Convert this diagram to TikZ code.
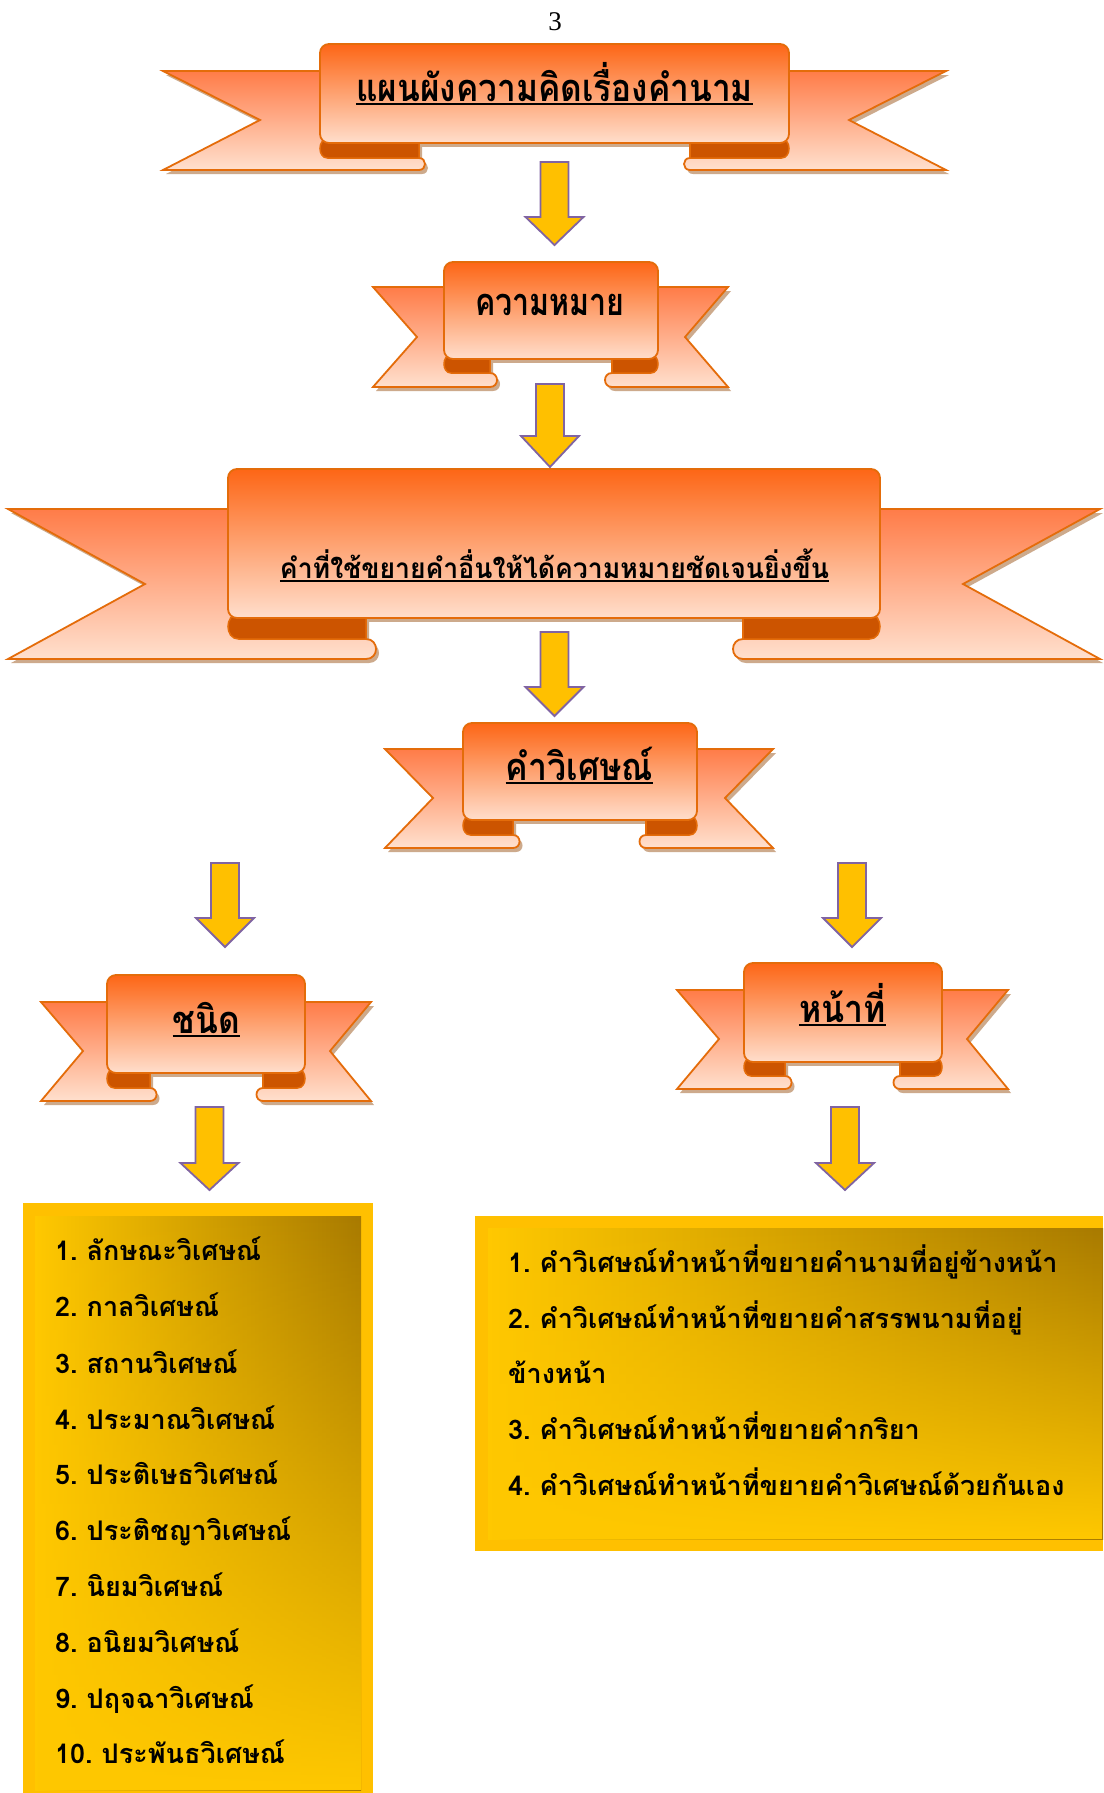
\documentclass[tikz,border=0pt]{standalone}
\usepackage{graphicx}
\usepackage{fontspec}
\newfontfamily\thai[Script=Thai]{Loma}
\newfontfamily\pnumfont{Liberation Serif}
\usetikzlibrary{fadings}
\definecolor{ribline}{RGB}{228,108,10}
\definecolor{ribtop}{RGB}{253,102,22}
\definecolor{ribmid}{RGB}{255,150,112}
\definecolor{ribbot}{RGB}{255,222,204}
\definecolor{eartop}{RGB}{255,124,72}
\definecolor{earbot}{RGB}{255,224,206}
\definecolor{ribdark}{RGB}{204,84,0}
\definecolor{ribshadow}{RGB}{205,170,140}
\definecolor{arryellow}{RGB}{255,192,0}
\definecolor{arrpurple}{RGB}{128,100,162}
\definecolor{boxframe}{RGB}{255,192,0}
\definecolor{boxlight}{RGB}{255,200,0}
\definecolor{boxdark}{RGB}{168,122,0}
\pgfkeys{/rib/.cd,
 pl/.store in=\rPL, pr/.store in=\rPR, pt/.store in=\rPT, pb/.store in=\rPB,
 fb/.store in=\rFB, et/.store in=\rET, eb/.store in=\rEB, ol/.store in=\rOL,
 nl/.store in=\rNL, or/.store in=\rOR, nr/.store in=\rNR, ny/.store in=\rNY,
 il/.store in=\rIL, ir/.store in=\rIR}
\newcommand\ribbon[1]{%
 \pgfkeys{/rib/.cd,#1}%
 \pgfmathsetmacro\rR{(\rEB-\rFB)*2/3}%
 \pgfmathsetmacro\rH{(\rFB-\rPB)/2}%
 \pgfmathsetmacro\rK{(\rFB-\rPB)*2/3}%
 % shadows
 \begin{scope}[shift={(3,4)}]
 \fill[ribshadow] (\rOL,\rET) -- (\rIL,\rET) -- (\rIL,\rFB) .. controls (\rIL+\rR,\rFB) and (\rIL+\rR,\rEB) .. (\rIL,\rEB) -- (\rOL,\rEB) -- (\rNL,\rNY) -- cycle;
 \fill[ribshadow] (\rOR,\rET) -- (\rIR,\rET) -- (\rIR,\rFB) .. controls (\rIR-\rR,\rFB) and (\rIR-\rR,\rEB) .. (\rIR,\rEB) -- (\rOR,\rEB) -- (\rNR,\rNY) -- cycle;
 \fill[ribshadow] (\rIL,\rPT+20) rectangle (\rIR,\rPB);
 \end{scope}
 % ears
 \shade[top color=eartop, bottom color=earbot, draw=ribline, line width=1.8pt, line join=miter]
   (\rOL,\rET) -- (\rIL,\rET) -- (\rIL,\rFB) .. controls (\rIL+\rR,\rFB) and (\rIL+\rR,\rEB) .. (\rIL,\rEB) -- (\rOL,\rEB) -- (\rNL,\rNY) -- cycle;
 \shade[top color=eartop, bottom color=earbot, draw=ribline, line width=1.8pt, line join=miter]
   (\rOR,\rET) -- (\rIR,\rET) -- (\rIR,\rFB) .. controls (\rIR-\rR,\rFB) and (\rIR-\rR,\rEB) .. (\rIR,\rEB) -- (\rOR,\rEB) -- (\rNR,\rNY) -- cycle;
 % folds
 \filldraw[fill=ribdark, draw=ribline, line width=1.5pt]
   (\rIL,\rPB-4) -- (\rIL,\rFB) -- (\rPL+\rH,\rFB) .. controls (\rPL+\rH-\rK,\rFB) and (\rPL+\rH-\rK,\rPB-4) .. (\rPL+\rH,\rPB-4) -- cycle;
 \filldraw[fill=ribdark, draw=ribline, line width=1.5pt]
   (\rIR,\rPB-4) -- (\rIR,\rFB) -- (\rPR-\rH,\rFB) .. controls (\rPR-\rH+\rK,\rFB) and (\rPR-\rH+\rK,\rPB-4) .. (\rPR-\rH,\rPB-4) -- cycle;
 % panel
 \shade[top color=ribtop, middle color=ribmid, bottom color=ribbot, draw=ribline, line width=1.8pt, rounded corners=9pt]
   (\rPL,\rPT) rectangle (\rPR,\rPB);
}
\newcommand\barrow[4]{%
 \draw[arr] (#1-14,#2) -- (#1+14,#2) -- (#1+14,#3) -- (#1+29,#3) -- (#1,#4) -- (#1-29,#3) -- (#1-14,#3) -- cycle;}
\newcommand\sx[2]{\scalebox{#1}[1]{#2}}
\begin{document}
\begin{tikzpicture}[x=1pt,y=-1pt,
  arr/.style={fill=arryellow, draw=arrpurple, line width=1.8pt, line join=miter},
  big/.style={inner sep=0pt, anchor=base, font={\thai\bfseries\fontsize{38pt}{40pt}\selectfont}},
  mid/.style={inner sep=0pt, anchor=base, font={\thai\bfseries\fontsize{28pt}{30pt}\selectfont}},
  item/.style={inner sep=0pt, anchor=base west, font={\thai\bfseries\fontsize{27pt}{30pt}\selectfont}},
  ul/.style={line width=2pt}]
\useasboundingbox (0,0) rectangle (1103,1793);
\fill[white] (0,0) rectangle (1103,1793);

\node[inner sep=0pt, anchor=base, font={\pnumfont\fontsize{27pt}{30pt}\selectfont}] (pnum) at (555,31) {3};

% ribbons
\ribbon{pl=320,pr=789,pt=44,pb=143,fb=158,eb=170,et=71,ol=163,nl=260,ny=120,or=946,nr=849,il=419,ir=690}
\node[big] (title) at (554.5,101) {\sx{0.88}{แผนผังความคิดเรื่องคำนาม}};
\draw[ul] ([yshift=-3pt]title.base west) -- ([yshift=-3pt]title.base east);

\ribbon{pl=444,pr=658,pt=262,pb=359,fb=373,eb=387,et=287,ol=373,nl=417,ny=337,or=728,nr=685,il=490,ir=612}
\node[big] (mean) at (550,315) {\sx{0.80}{ความหมาย}};

\ribbon{pl=228,pr=880,pt=469,pb=618,fb=639,eb=659,et=509,ol=8,nl=145,ny=584,or=1100,nr=963,il=366,ir=743}
\node[mid] (def) at (554.5,578) {\sx{0.95}{คำที่ใช้ขยายคำอื่นให้ได้ความหมายชัดเจนยิ่งขึ้น}};
\draw[ul] ([yshift=-3pt]def.base west) -- ([yshift=-3pt]def.base east);

\ribbon{pl=463,pr=697,pt=723,pb=820,fb=835,eb=848,et=749,ol=385,nl=433,ny=798,or=773,nr=725,il=513,ir=646}
\node[big] (adv) at (579.5,780) {\sx{0.89}{คำวิเศษณ์}};
\draw[ul] ([yshift=-3pt]adv.base west) -- ([yshift=-3pt]adv.base east);

\ribbon{pl=107,pr=305,pt=975,pb=1073,fb=1088,eb=1101,et=1002,ol=41,nl=83,ny=1051,or=371,nr=330,il=150,ir=263}
\node[big] (kind) at (206.5,1033) {\sx{0.88}{ชนิด}};
\draw[ul] ([yshift=-3pt]kind.base west) -- ([yshift=-3pt]kind.base east);

\ribbon{pl=744,pr=942,pt=963,pb=1062,fb=1076,eb=1089,et=990,ol=677,nl=719,ny=1039,or=1008,nr=967,il=785,ir=900}
\node[big] (duty) at (842.5,1022) {\sx{0.89}{หน้าที่}};
\draw[ul] ([yshift=-3pt]duty.base west) -- ([yshift=-3pt]duty.base east);

% arrows
\barrow{554.5}{162}{217}{245}
\barrow{550}{384}{436}{467}
\barrow{554.5}{632}{687}{716}
\barrow{225}{863}{918}{947}
\barrow{852}{863}{918}{947}
\barrow{209.5}{1107}{1163}{1190}
\barrow{845}{1107}{1163}{1190}

% boxes
\fill[boxframe] (23,1203) rectangle (373,1793);
\shade[left color=boxlight, right color=boxdark] (35,1216) rectangle (361,1790);
\fill[boxlight, path fading=north] (35,1216) rectangle (361,1790);

\fill[boxframe] (475,1216) rectangle (1103,1551);
\shade[left color=boxlight, right color=boxdark] (488,1228) rectangle (1103,1539);
\fill[boxlight, path fading=north] (488,1228) rectangle (1103,1539);

% left list
\node[item] (k1) at (55,1260) {1.\kern9pt ลักษณะวิเศษณ์};
\node[item] (k2) at (55,1316) {2.\kern9pt กาลวิเศษณ์};
\node[item] (k3) at (55,1373) {3.\kern9pt สถานวิเศษณ์};
\node[item] (k4) at (55,1429) {4.\kern9pt ประมาณวิเศษณ์};
\node[item] (k5) at (55,1484) {5.\kern9pt ประติเษธวิเศษณ์};
\node[item] (k6) at (55,1540) {6.\kern9pt ประติชญาวิเศษณ์};
\node[item] (k7) at (55,1596) {7.\kern9pt นิยมวิเศษณ์};
\node[item] (k8) at (55,1652) {8.\kern9pt อนิยมวิเศษณ์};
\node[item] (k9) at (55,1708) {9.\kern9pt ปฤจฉาวิเศษณ์};
\node[item] (k10) at (55,1763) {10.\kern9pt ประพันธวิเศษณ์};

% right list
\node[item] (d1) at (508,1272) {1.\kern9pt คำวิเศษณ์ทำหน้าที่ขยายคำนามที่อยู่ข้างหน้า};
\node[item] (d2) at (508,1328) {2.\kern9pt คำวิเศษณ์ทำหน้าที่ขยายคำสรรพนามที่อยู่};
\node[item] (d2b) at (508,1383) {ข้างหน้า};
\node[item] (d3) at (508,1439) {3.\kern9pt คำวิเศษณ์ทำหน้าที่ขยายคำกริยา};
\node[item] (d4) at (508,1495) {4.\kern9pt คำวิเศษณ์ทำหน้าที่ขยายคำวิเศษณ์ด้วยกันเอง};
\end{tikzpicture}
\end{document}
